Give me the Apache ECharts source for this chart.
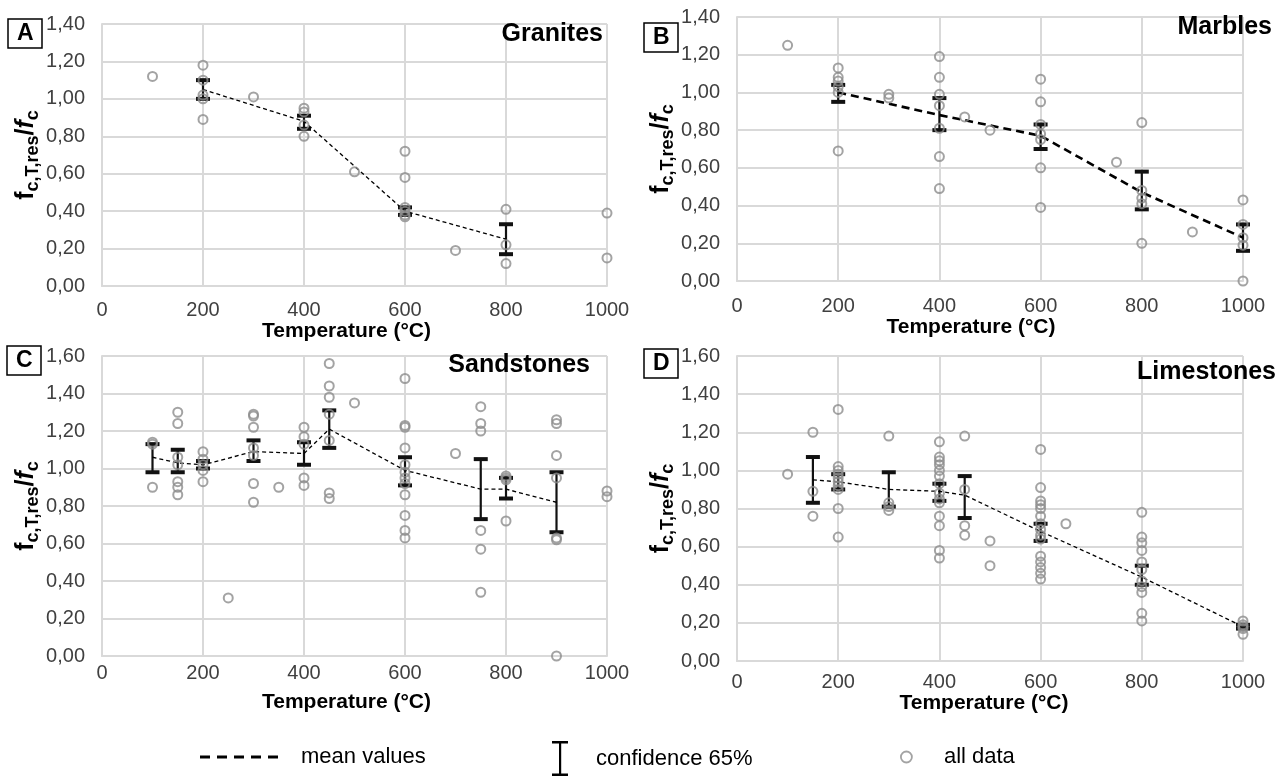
<!DOCTYPE html>
<html>
<head>
<meta charset="utf-8">
<script src="https://cdn.jsdelivr.net/npm/echarts@6/dist/echarts.min.js"></script>
<style>
html,body{margin:0;padding:0;background:#ffffff;}
#chart{width:1285px;height:778px;}
</style>
</head>
<body>
<div id="chart"></div>
<script>
// ---------------- DATA ----------------
const xTickValues = [0, 200, 400, 600, 800, 1000];

// A – Granites : [temperature, fc,T,res/fc]
const graniteData = [
  [100,1.12],
  [200,1.18],[200,1.10],[200,1.02],[200,1.00],[200,0.89],
  [300,1.01],
  [400,0.95],[400,0.93],[400,0.86],[400,0.80],
  [500,0.61],
  [600,0.72],[600,0.58],[600,0.42],[600,0.40],[600,0.38],[600,0.37],
  [700,0.19],
  [800,0.41],[800,0.22],[800,0.12],
  [1000,0.39],[1000,0.15]
];
const graniteMeanT = [200, 400, 600, 800];
const graniteMean  = [1.05, 0.88, 0.40, 0.25];
const graniteCiLow  = [1.00, 0.84, 0.38, 0.17];
const graniteCiHigh = [1.10, 0.91, 0.42, 0.33];

// B – Marbles
const marbleData = [
  [100,1.25],
  [200,1.13],[200,1.08],[200,1.06],[200,1.03],[200,1.00],[200,0.69],
  [300,0.99],[300,0.97],
  [400,1.19],[400,1.08],[400,0.99],[400,0.93],[400,0.81],[400,0.66],[400,0.49],
  [450,0.87],
  [500,0.80],
  [600,1.07],[600,0.95],[600,0.83],[600,0.78],[600,0.75],[600,0.60],[600,0.39],
  [750,0.63],
  [800,0.84],[800,0.48],[800,0.44],[800,0.41],[800,0.20],
  [900,0.26],
  [1000,0.43],[1000,0.30],[1000,0.23],[1000,0.19],[1000,0.00]
];
const marbleMeanT = [200, 400, 600, 800, 1000];
const marbleMean  = [1.00, 0.88, 0.77, 0.47, 0.23];
const marbleCiLow  = [0.95, 0.80, 0.70, 0.38, 0.16];
const marbleCiHigh = [1.04, 0.97, 0.83, 0.58, 0.30];

// C – Sandstones
const sandstoneData = [
  [100,1.14],[100,1.13],[100,0.90],
  [150,1.30],[150,1.24],[150,1.06],[150,1.02],[150,0.93],[150,0.90],[150,0.86],
  [200,1.09],[200,1.05],[200,1.02],[200,0.99],[200,0.93],
  [250,0.31],
  [300,1.29],[300,1.28],[300,1.22],[300,1.11],[300,1.07],[300,0.92],[300,0.82],
  [350,0.90],
  [400,1.22],[400,1.17],[400,1.13],[400,0.95],[400,0.91],
  [450,1.56],[450,1.44],[450,1.38],[450,1.29],[450,1.15],[450,0.87],[450,0.84],
  [500,1.35],
  [600,1.48],[600,1.23],[600,1.22],[600,1.11],[600,1.02],[600,0.98],[600,0.95],[600,0.92],[600,0.86],[600,0.75],[600,0.67],[600,0.63],
  [700,1.08],
  [750,1.33],[750,1.24],[750,1.20],[750,0.67],[750,0.57],[750,0.34],
  [800,0.96],[800,0.95],[800,0.94],[800,0.72],
  [900,1.26],[900,1.24],[900,1.07],[900,0.95],[900,0.63],[900,0.62],[900,0.00],
  [1000,0.88],[1000,0.85]
];
const sandstoneMeanT = [100, 150, 200, 300, 400, 450, 600, 750, 800, 900];
const sandstoneMean  = [1.06, 1.03, 1.02, 1.09, 1.08, 1.21, 0.99, 0.89, 0.89, 0.82];
const sandstoneCiLow  = [0.98, 0.98, 1.00, 1.04, 1.02, 1.11, 0.91, 0.73, 0.84, 0.66];
const sandstoneCiHigh = [1.13, 1.10, 1.04, 1.15, 1.14, 1.31, 1.06, 1.05, 0.95, 0.98];

// D – Limestones
const limestoneData = [
  [100,0.98],
  [150,1.20],[150,0.89],[150,0.76],
  [200,1.32],[200,1.02],[200,1.00],[200,0.98],[200,0.96],[200,0.94],[200,0.92],[200,0.90],[200,0.80],[200,0.65],
  [300,1.18],[300,0.83],[300,0.81],[300,0.79],
  [400,1.15],[400,1.07],[400,1.05],[400,1.03],[400,1.00],[400,0.97],[400,0.93],[400,0.88],[400,0.85],[400,0.83],[400,0.76],[400,0.71],[400,0.58],[400,0.54],
  [450,1.18],[450,0.90],[450,0.71],[450,0.66],
  [500,0.63],[500,0.50],
  [600,1.11],[600,0.91],[600,0.84],[600,0.82],[600,0.80],[600,0.76],[600,0.72],[600,0.69],[600,0.66],[600,0.64],[600,0.55],[600,0.52],[600,0.49],[600,0.46],[600,0.43],
  [650,0.72],
  [800,0.78],[800,0.65],[800,0.62],[800,0.58],[800,0.52],[800,0.48],[800,0.42],[800,0.39],[800,0.36],[800,0.25],[800,0.21],
  [1000,0.21],[1000,0.19],[1000,0.18],[1000,0.17],[1000,0.14]
];
const limestoneMeanT = [150, 200, 300, 400, 450, 600, 800, 1000];
const limestoneMean  = [0.95, 0.94, 0.90, 0.89, 0.87, 0.68, 0.44, 0.18];
const limestoneCiLow  = [0.83, 0.90, 0.81, 0.84, 0.75, 0.63, 0.40, 0.17];
const limestoneCiHigh = [1.07, 0.98, 0.99, 0.93, 0.97, 0.72, 0.50, 0.19];

const panelLetters = ['A', 'B', 'C', 'D'];
const panelNames = ['Granites', 'Marbles', 'Sandstones', 'Limestones'];
const xAxisTitle = 'Temperature (°C)';
const legendNames = ['mean values', 'confidence 65%', 'all data'];

// ---------------- LAYOUT / STYLE ----------------
const FONT = '"Liberation Sans", Arial, Helvetica, sans-serif';
const GRID_COLOR = '#d9d9d9';
const MARK_COLOR = '#8c8c8c';

const panels = [
  { data: graniteData, meanT: graniteMeanT, mean: graniteMean, lo: graniteCiLow, hi: graniteCiHigh, yMax: 1.4,
    grid: {left: 102, top: 24, width: 505, height: 262}, labelMargin: 14, nameGap: 27, titleShift: 16,
    letterPos: {left: 8, top: 19}, namePos: {right: 682, top: 22}, dash: [4, 3], dashW: 1.3 },
  { data: marbleData, meanT: marbleMeanT, mean: marbleMean, lo: marbleCiLow, hi: marbleCiHigh, yMax: 1.4,
    grid: {left: 737, top: 17, width: 506, height: 264}, labelMargin: 15, nameGap: 34, titleShift: 38,
    letterPos: {left: 644, top: 23}, namePos: {right: 13, top: 15}, dash: [8, 5], dashW: 2.6 },
  { data: sandstoneData, meanT: sandstoneMeanT, mean: sandstoneMean, lo: sandstoneCiLow, hi: sandstoneCiHigh, yMax: 1.6,
    grid: {left: 102, top: 356, width: 505, height: 300}, labelMargin: 7, nameGap: 36, titleShift: 16,
    letterPos: {left: 7, top: 346}, namePos: {right: 695, top: 353}, dash: [4, 3], dashW: 1.3 },
  { data: limestoneData, meanT: limestoneMeanT, mean: limestoneMean, lo: limestoneCiLow, hi: limestoneCiHigh, yMax: 1.6,
    grid: {left: 737, top: 356, width: 506, height: 305}, labelMargin: 11, nameGap: 32, titleShift: 12,
    letterPos: {left: 644, top: 349}, namePos: {right: 9, top: 360}, dash: [4, 3], dashW: 1.3 }
];

function renderErrorBar(params, api) {
  const x = api.value(0);
  const lo = api.coord([x, api.value(1)]);
  const hi = api.coord([x, api.value(2)]);
  const capW = 14, capH = 4;
  return {
    type: 'group',
    children: [
      { type: 'line', shape: {x1: lo[0], y1: lo[1], x2: hi[0], y2: hi[1]}, style: {stroke: '#111', lineWidth: 2.2} },
      { type: 'rect', shape: {x: hi[0] - capW / 2, y: hi[1] - capH / 2, width: capW, height: capH}, style: {fill: '#111'} },
      { type: 'rect', shape: {x: lo[0] - capW / 2, y: lo[1] - capH / 2, width: capW, height: capH}, style: {fill: '#111'} }
    ]
  };
}

const grids = [], xAxes = [], yAxes = [], series = [], titles = [];

panels.forEach((p, i) => {
  grids.push(Object.assign({outerBoundsMode: 'none', containLabel: false}, p.grid));
  xAxes.push({
    type: 'value', gridIndex: i, min: 0, max: 1000, interval: 200,
    name: xAxisTitle, nameLocation: 'middle', nameGap: p.nameGap,
    nameTextStyle: {fontSize: 21, fontWeight: 'bold', color: '#000', fontFamily: FONT, padding: [0, p.titleShift, 0, 0]},
    axisLine: {show: true, onZero: false, lineStyle: {color: GRID_COLOR, width: 2}},
    axisTick: {show: false},
    axisLabel: {fontSize: 20, color: '#404040', fontFamily: FONT, margin: p.labelMargin, formatter: v => String(v)},
    splitLine: {show: true, lineStyle: {color: GRID_COLOR, width: 2}}
  });
  yAxes.push({
    type: 'value', gridIndex: i, min: 0, max: p.yMax, interval: 0.2,
    name: '{f|f}{s|c,T,res}{f|/}{fi|f}{s|c}', nameLocation: 'middle', nameGap: 58,
    nameTextStyle: {
      fontFamily: FONT, color: '#000',
      rich: {
        f: {fontSize: 25, fontWeight: 'bold', fontFamily: FONT, color: '#000', lineHeight: 32},
        fi: {fontSize: 25, fontWeight: 'bold', fontStyle: 'italic', fontFamily: FONT, color: '#000', lineHeight: 32},
        s: {fontSize: 18, fontWeight: 'bold', fontFamily: FONT, color: '#000', lineHeight: 16, verticalAlign: 'bottom'}
      }
    },
    axisLine: {show: true, lineStyle: {color: GRID_COLOR, width: 2}},
    axisTick: {show: false},
    axisLabel: {fontSize: 20, color: '#404040', fontFamily: FONT, margin: 17,
      formatter: v => v.toFixed(2).replace('.', ',')},
    splitLine: {show: true, lineStyle: {color: GRID_COLOR, width: 2}}
  });

  series.push({
    name: legendNames[1], type: 'custom', xAxisIndex: i, yAxisIndex: i,
    renderItem: renderErrorBar,
    encode: {x: 0, y: [1, 2]},
    itemStyle: {color: '#111'},
    data: p.meanT.map((t, k) => [t, p.lo[k], p.hi[k]]),
    z: 3
  });
  series.push({
    name: legendNames[0], type: 'line', xAxisIndex: i, yAxisIndex: i,
    symbol: 'none',
    lineStyle: {color: '#000', width: p.dashW, type: p.dash},
    itemStyle: {color: '#000'},
    data: p.meanT.map((t, k) => [t, p.mean[k]]),
    z: 4
  });
  series.push({
    name: legendNames[2], type: 'scatter', xAxisIndex: i, yAxisIndex: i,
    symbol: 'circle', symbolSize: 9,
    itemStyle: {color: 'rgba(255,255,255,0)', borderColor: MARK_COLOR, borderWidth: 2},
    data: p.data,
    z: 5
  });

  titles.push({
    text: panelLetters[i], left: p.letterPos.left, top: p.letterPos.top,
    padding: [3, 9], borderColor: '#000', borderWidth: 1.5,
    textStyle: {fontSize: 23, fontWeight: 'bold', color: '#000', fontFamily: FONT}
  });
  titles.push({
    text: panelNames[i], right: p.namePos.right, top: p.namePos.top, padding: 0,
    textStyle: {fontSize: 25, fontWeight: 'bold', color: '#000', fontFamily: FONT}
  });
});

const DASH_ICON = 'path://M0,0h10v3h-10z M17,0h10v3h-10z M34,0h10v3h-10z M51,0h10v3h-10z M68,0h10v3h-10z';
const IBEAM_ICON = 'path://M0,0h16v2.5h-16z M7,0h2.2v35h-2.2z M0,32.5h16v2.5h-16z';
const legendText = {fontSize: 22, color: '#000', fontFamily: FONT};

const option = {
  animation: false,
  backgroundColor: '#ffffff',
  title: titles,
  grid: grids,
  xAxis: xAxes,
  yAxis: yAxes,
  legend: [
    { data: [{name: legendNames[0], icon: DASH_ICON, itemStyle: {color: '#000', borderWidth: 0}}],
      left: 200, top: 746, padding: 0, itemWidth: 114, itemHeight: 3, selectedMode: false, textStyle: legendText },
    { data: [{name: legendNames[1], icon: IBEAM_ICON, itemStyle: {color: '#000', borderWidth: 0}}],
      left: 552, top: 741, padding: 0, itemWidth: 62, itemHeight: 35, selectedMode: false, textStyle: legendText },
    { data: [{name: legendNames[2], icon: 'circle', itemStyle: {color: '#fff', borderColor: MARK_COLOR, borderWidth: 1.8}}],
      left: 900, top: 746, padding: 0, itemWidth: 65, itemHeight: 11, selectedMode: false, textStyle: legendText }
  ],
  series: series
};

const chart = echarts.init(document.getElementById('chart'), null, {renderer: 'canvas'});
chart.setOption(option);
</script>
</body>
</html>
